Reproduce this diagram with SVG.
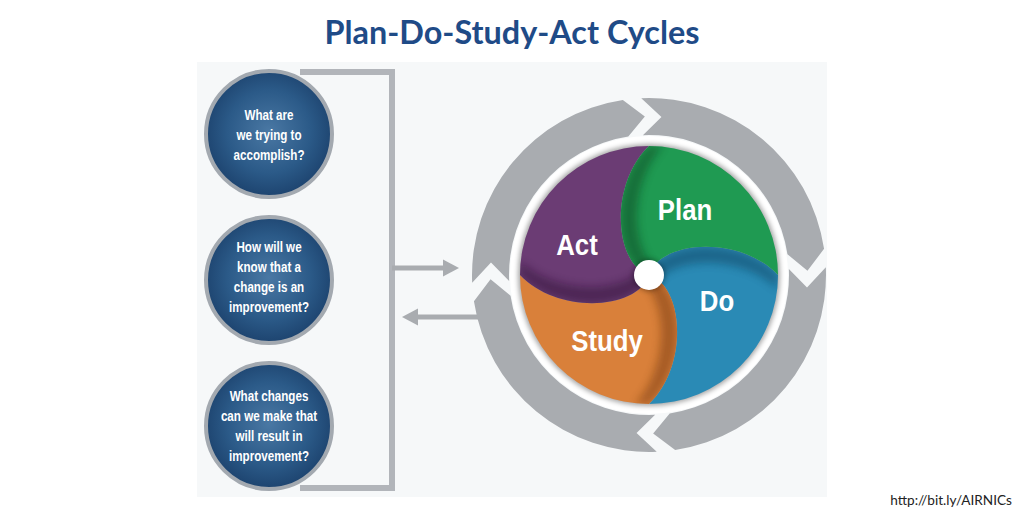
<svg xmlns="http://www.w3.org/2000/svg" width="1024" height="512" viewBox="0 0 1024 512">
<defs>
<style>
.title{font-family:Lato,"Liberation Sans",sans-serif;font-weight:bold;font-size:32.4px;fill:#1f4b87}
.foot{font-family:Lato,"Liberation Sans",sans-serif;font-size:13.6px;fill:#222}
.q{font-family:"Liberation Sans",Arial,sans-serif;font-weight:bold;font-size:15.5px;fill:#fff;text-anchor:middle}
.lbl{font-family:"Liberation Sans",Arial,sans-serif;font-weight:bold;font-size:30px;fill:#fff;text-anchor:middle}
.qc{fill:url(#qg);stroke:#a3a9b0;stroke-width:4}
.ring{fill:#a9acb0}
.conn{stroke:#b2b5ba;stroke-width:6;fill:none}
.arw{stroke:#a9acb0;stroke-width:5;fill:none}
.head{fill:#a9acb0}
</style>
<radialGradient id="qg" cx="50%" cy="48%" r="55%">
<stop offset="0" stop-color="#4a78a4"/>
<stop offset="0.6" stop-color="#2b5a88"/>
<stop offset="1" stop-color="#1b406b"/>
</radialGradient>
<filter id="blur" x="-20%" y="-20%" width="140%" height="140%"><feGaussianBlur stdDeviation="4"/></filter>
<filter id="sh" x="-20%" y="-20%" width="140%" height="140%"><feGaussianBlur stdDeviation="2.5"/></filter>
<path id="ringseg" d="M -7.72 -176.83 A 177 177 0 0 1 175.06 -26.16 L 158.45 -4.15 L 138.46 -20.69 A 140 140 0 0 0 -6.11 -139.87 L 12.44 -158.01 Z"/>
<path id="seg" d="M 0 0 C 11 -35 91 -40 129 0 A 129 129 0 0 1 0 129 C 40 91 35 11 0 0 Z"/>
<path id="shade" d="M 0 0 C 11 -35 91 -40 129 0 L 129 14 C 95 -18 30 -20 8 6 Z"/>
<clipPath id="segclip"><use href="#seg"/></clipPath>
</defs>
<rect width="1024" height="512" fill="#ffffff"/>
<rect x="197" y="62" width="630" height="435" fill="#f6f8f9"/>
<text class="title" x="512" y="44" text-anchor="middle">Plan-Do-Study-Act Cycles</text>
<g id="connectors">
<path class="conn" d="M 300 72 H 392 V 488 H 300"/>
<line class="arw" x1="392" y1="268" x2="446" y2="268"/>
<polygon class="head" points="443,259.5 459,268 443,276.5"/>
<line class="arw" x1="478" y1="317" x2="414" y2="317"/>
<polygon class="head" points="418,308.5 402,317 418,325.5"/>
</g>
<g id="q1">
<circle class="qc" cx="269" cy="134" r="63"/>
<g transform="translate(269,0) scale(0.75,1)">
<text class="q" x="0" y="120">What are</text>
<text class="q" x="0" y="140">we trying to</text>
<text class="q" x="0" y="160">accomplish?</text>
</g>
</g>
<g id="q2">
<circle class="qc" cx="269" cy="280" r="63"/>
<g transform="translate(269,0) scale(0.75,1)">
<text class="q" x="0" y="252">How will we</text>
<text class="q" x="0" y="272">know that a</text>
<text class="q" x="0" y="292">change is an</text>
<text class="q" x="0" y="312">improvement?</text>
</g>
</g>
<g id="q3">
<circle class="qc" cx="269" cy="426" r="63"/>
<g transform="translate(269,0) scale(0.75,1)">
<text class="q" x="0" y="401">What changes</text>
<text class="q" x="0" y="421">can we make that</text>
<text class="q" x="0" y="441">will result in</text>
<text class="q" x="0" y="461">improvement?</text>
</g>
</g>
<g id="cycle-ring" transform="translate(649,275)">
<use class="ring" href="#ringseg"/>
<use class="ring" href="#ringseg" transform="rotate(90)"/>
<use class="ring" href="#ringseg" transform="rotate(180)"/>
<use class="ring" href="#ringseg" transform="rotate(270)"/>
<circle r="139" fill="#ffffff"/>
<circle r="131" fill="#000" opacity="0.35" filter="url(#sh)"/>
</g>
<g id="cycle" transform="translate(649,275)">
<g id="do">
<use href="#seg" fill="#2a8ab5"/>
<use href="#shade" fill="#0b3d5a" opacity="0.45" filter="url(#blur)" clip-path="url(#segclip)"/>
</g>
<g id="study" transform="rotate(90)">
<use href="#seg" fill="#d9803a"/>
<use href="#shade" fill="#6a3308" opacity="0.45" filter="url(#blur)" clip-path="url(#segclip)"/>
</g>
<g id="act" transform="rotate(180)">
<use href="#seg" fill="#6b3c74"/>
<use href="#shade" fill="#2a0d30" opacity="0.45" filter="url(#blur)" clip-path="url(#segclip)"/>
</g>
<g id="plan" transform="rotate(270)">
<use href="#seg" fill="#1f9a52"/>
<use href="#shade" fill="#073d1d" opacity="0.45" filter="url(#blur)" clip-path="url(#segclip)"/>
</g>
<circle r="16" fill="#000" opacity="0.3" filter="url(#sh)"/>
<circle r="15" fill="#ffffff"/>
</g>
<g id="labels">
<g transform="translate(685,0) scale(0.86,1)"><text class="lbl" x="0" y="220">Plan</text></g>
<g transform="translate(577,0) scale(0.86,1)"><text class="lbl" x="0" y="255">Act</text></g>
<g transform="translate(717,0) scale(0.86,1)"><text class="lbl" x="0" y="311">Do</text></g>
<g transform="translate(607,0) scale(0.86,1)"><text class="lbl" x="0" y="351">Study</text></g>
</g>
<text class="foot" x="1012" y="505" text-anchor="end">http://bit.ly/AIRNICs</text>
</svg>
